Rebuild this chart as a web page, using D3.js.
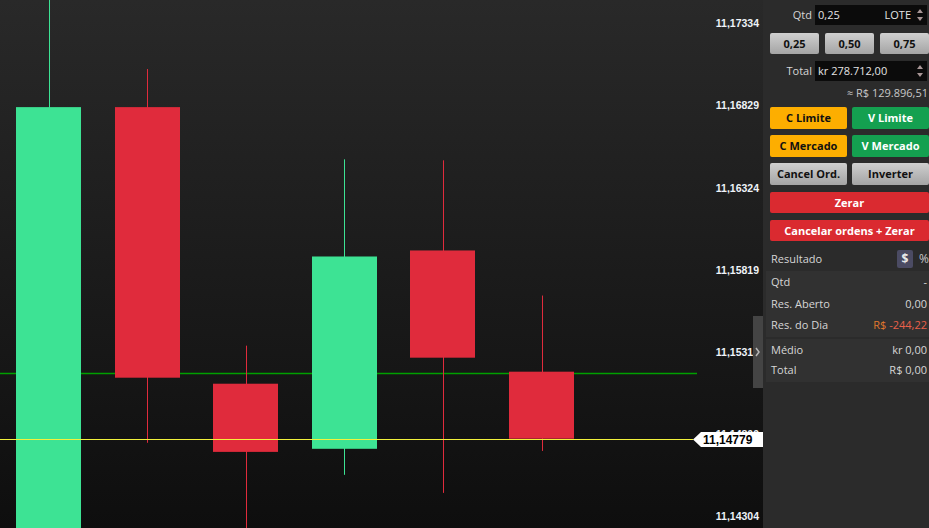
<!DOCTYPE html>
<html><head><meta charset="utf-8">
<script src="https://cdn.jsdelivr.net/npm/d3@7"></script>
<style>
html,body{margin:0;padding:0;background:#1a1a1a;overflow:hidden}
svg{display:block}
</style></head>
<body>
<svg id="c" width="929" height="528"></svg>
<script>
// ---- data ----
const candleIds = ["c1","c2","c3","c4","c5","c6"];
const opens  = [11.13781, 11.16817, 11.15117, 11.14717, 11.15936, 11.15191];
const highs  = [11.17722, 11.17051, 11.15351, 11.16496, 11.16490, 11.15659];
const lows   = [11.13600, 11.14754, 11.14027, 11.14557, 11.14446, 11.14704];
const closes = [11.16817, 11.15154, 11.14698, 11.15899, 11.15277, 11.14779];
const tickValues = [11.17334, 11.16829, 11.16324, 11.15819, 11.15314, 11.14809, 11.14304];
const tickLabels = ["11,17334","11,16829","11,16324","11,15819","11,15314","11,14809","11,14304"];
const lastPrice = 11.14779, lastPriceLabel = "11,14779";
const orderLevel = 11.15185;

const svg = d3.select("#c");
const W = 929, H = 528, chartW = 763, plotW = 697;

const defs = svg.append("defs");
const bg = defs.append("linearGradient").attr("id","bg").attr("x1",0).attr("y1",0).attr("x2",0).attr("y2",1);
bg.append("stop").attr("offset","0%").attr("stop-color","#292929");
bg.append("stop").attr("offset","100%").attr("stop-color","#0e0e0e");
const gBtn = defs.append("linearGradient").attr("id","gbtn").attr("x1",0).attr("y1",0).attr("x2",0).attr("y2",1);
gBtn.append("stop").attr("offset","0%").attr("stop-color","#cfcfcf");
gBtn.append("stop").attr("offset","100%").attr("stop-color","#a4a4a4");

svg.append("rect").attr("width",chartW).attr("height",H).attr("fill","url(#bg)");

const y = d3.scaleLinear().domain([11.14304, 11.17334]).range([516, 23]);
const x = d3.scaleLinear().domain([0, candleIds.length-1]).range([48.5, 541.5]);
const bodyW = 65;

// order level line
svg.append("line").attr("x1",0).attr("x2",plotW).attr("y1",Math.round(y(orderLevel))+0.5).attr("y2",Math.round(y(orderLevel))+0.5)
  .attr("stroke","#00a000").attr("stroke-width",1.5);

const candles = candleIds.map((id,i)=>({id,i,o:opens[i],h:highs[i],l:lows[i],c:closes[i]}));
const cg = svg.append("g").selectAll("g").data(candles).join("g");
cg.append("line")
  .attr("x1",d=>Math.round(x(d.i))+0.5).attr("x2",d=>Math.round(x(d.i))+0.5)
  .attr("y1",d=>y(d.h)).attr("y2",d=>y(d.l))
  .attr("stroke",d=>d.c>=d.o?"#3de394":"#e02b3c").attr("stroke-width",1);
cg.append("rect")
  .attr("x",d=>Math.round(x(d.i)-bodyW/2)).attr("width",bodyW)
  .attr("y",d=>y(Math.max(d.o,d.c))).attr("height",d=>Math.abs(y(d.o)-y(d.c)))
  .attr("fill",d=>d.c>=d.o?"#3de394":"#e02b3c");

svg.append("line").attr("x1",0).attr("x2",693).attr("y1",Math.round(y(lastPrice))+0.5).attr("y2",Math.round(y(lastPrice))+0.5)
  .attr("stroke","#f2f23c").attr("stroke-width",1);

// axis
const axis = d3.axisLeft(y).tickValues(tickValues).tickSize(0).tickPadding(0)
  .tickFormat((d,i)=>tickLabels[i]);
const ag = svg.append("g").attr("transform","translate(759,0)").call(axis);
ag.select(".domain").remove();
ag.selectAll("text").attr("fill","#eef3f8").attr("font-family","Liberation Sans, Arial, sans-serif")
  .attr("font-size","10.5px").attr("font-weight","bold").attr("dy","0.35em");

// last price tag (covers the tick label behind it, as in the reference)
const ly = Math.round(y(lastPrice));
svg.append("path").attr("d",`M693,${ly+0.5} L701,${ly-7} L763,${ly-7} L763,${ly+8} L701,${ly+8} Z`).attr("fill","#ffffff");
svg.append("text").attr("x",703).attr("y",ly+5).attr("fill","#000").attr("font-family","Liberation Sans, Arial, sans-serif")
  .attr("font-size","12px").attr("font-weight","bold").text(lastPriceLabel);

// side toggle tab
svg.append("rect").attr("x",753).attr("y",316).attr("width",10).attr("height",72).attr("fill","#444444");
svg.append("path").attr("d","M756,348 L759,352 L756,356").attr("fill","none").attr("stroke","#b8b8b8").attr("stroke-width",1.5);

// ---- side panel ----
const P = svg.append("g");
P.append("rect").attr("x",chartW).attr("y",0).attr("width",W-chartW).attr("height",H).attr("fill","#2b2b2b");
const font = "Open Sans, sans-serif";
function txt(xp,yp,s,opt={}){
  return P.append("text").attr("x",xp).attr("y",yp).text(s)
    .attr("font-family",font).attr("font-size",opt.size||"11px")
    .attr("font-weight",opt.bold?"bold":"normal")
    .attr("text-anchor",opt.anchor||"start").attr("fill",opt.fill||"#d6d6d6");
}
function input(yp,val,extra){
  P.append("rect").attr("x",815).attr("y",yp).attr("width",112).attr("height",20).attr("fill","#0b0b0b");
  txt(818,yp+14,val,{fill:"#e4e4e4"});
  if(extra) txt(911,yp+14,extra,{anchor:"end",fill:"#e4e4e4"});
  P.append("path").attr("d",`M917,${yp+8} L920,${yp+4} L923,${yp+8} Z`).attr("fill","#a89696");
  P.append("path").attr("d",`M917,${yp+12} L920,${yp+16} L923,${yp+12} Z`).attr("fill","#a89696");
}
txt(812,19,"Qtd",{anchor:"end"});
input(5,"0,25","LOTE");
[["0,25",770],["0,50",825],["0,75",880]].forEach(([s,xp])=>{
  P.append("rect").attr("x",xp).attr("y",33).attr("width",49).attr("height",21).attr("rx",2).attr("fill","url(#gbtn)");
  txt(xp+24.5,48,s,{anchor:"middle",bold:true,fill:"#111"});
});
txt(812,75,"Total",{anchor:"end"});
input(61,"kr 278.712,00");
txt(928,97,"≈ R$ 129.896,51",{anchor:"end",fill:"#c8c8c8"});

function btn(xp,yp,w,h,fill,s,tc){
  P.append("rect").attr("x",xp).attr("y",yp).attr("width",w).attr("height",h).attr("rx",2).attr("fill",fill);
  txt(xp+w/2,yp+h/2+4,s,{anchor:"middle",bold:true,fill:tc});
}
btn(770,107,77,22,"#fdae00","C Limite","#111");
btn(852,107,77,22,"#14a050","V Limite","#fff");
btn(770,135,77,22,"#fdae00","C Mercado","#111");
btn(852,135,77,22,"#14a050","V Mercado","#fff");
btn(770,163,77,22,"url(#gbtn)","Cancel Ord.","#111");
btn(852,163,77,22,"url(#gbtn)","Inverter","#111");
btn(770,192,159,21,"#da2a30","Zerar","#fff");
btn(770,220,159,21,"#da2a30","Cancelar ordens + Zerar","#fff");

txt(771,263,"Resultado");
P.append("rect").attr("x",897).attr("y",250).attr("width",16).attr("height",18).attr("rx",2).attr("fill","#4b4b63");
txt(905,263,"$",{anchor:"middle",bold:true,fill:"#e8e8e8",size:"12px"});
txt(919,263,"%",{fill:"#c8c8c8",size:"12px"});

P.append("rect").attr("x",766).attr("y",271).attr("width",163).attr("height",66).attr("fill","#313131");
P.append("rect").attr("x",766).attr("y",339).attr("width",163).attr("height",43).attr("fill","#313131");
txt(771,286,"Qtd"); txt(927,286,"-",{anchor:"end"});
txt(771,308,"Res. Aberto"); txt(927,308,"0,00",{anchor:"end"});
txt(771,329,"Res. do Dia");
const rd = P.append("text").attr("x",927).attr("y",329).attr("text-anchor","end").attr("font-family",font).attr("font-size","11px");
rd.append("tspan").attr("fill","#e0782e").text("R$ ");
rd.append("tspan").attr("fill","#e8604a").text("-244,22");
txt(771,354,"Médio"); txt(927,354,"kr 0,00",{anchor:"end"});
txt(771,374,"Total"); txt(927,374,"R$ 0,00",{anchor:"end"});
</script>
</body></html>
